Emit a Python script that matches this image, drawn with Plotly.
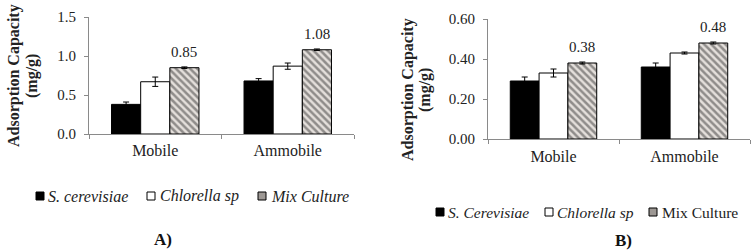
import plotly.graph_objects as go

categories = ["Mobile", "Ammobile"]

# Panel A
a_names = ["S. cerevisiae", "Chlorella sp", "Mix Culture"]
a_scer = [0.38, 0.68]
a_scer_err = [0.03, 0.03]
a_chl = [0.67, 0.87]
a_chl_err = [0.06, 0.04]
a_mix = [0.85, 1.08]
a_mix_err = [0.01, 0.01]
a_mix_labels = ["0.85", "1.08"]

# Panel B
b_names = ["S. Cerevisiae", "Chlorella sp", "Mix Culture"]
b_scer = [0.29, 0.36]
b_scer_err = [0.02, 0.02]
b_chl = [0.33, 0.43]
b_chl_err = [0.02, 0.005]
b_mix = [0.38, 0.48]
b_mix_err = [0.005, 0.005]
b_mix_labels = ["0.38", "0.48"]

FONT = "Liberation Serif, Times New Roman, Times, serif"
TXT = "#222"
BARGAP = 0.34
err_style = dict(type="data", color="black", thickness=1, width=3)
MIX_BG = "#e4dfdb"
hatch = dict(shape="\\", fgcolor="#3a3a3a", bgcolor=MIX_BG, size=5, solidity=0.5)
fills = ["black", "white", "#9d9894"]

fig = go.Figure()

def add_panel(xa, ya, names, s, se, c, ce, m, me, lab):
    fig.add_trace(go.Bar(x=categories, y=s, name=names[0], xaxis=xa, yaxis=ya,
                         marker=dict(color="black", line=dict(color="black", width=1)),
                         error_y=dict(array=se, **err_style)))
    fig.add_trace(go.Bar(x=categories, y=c, name=names[1], xaxis=xa, yaxis=ya,
                         marker=dict(color="white", line=dict(color="black", width=1)),
                         error_y=dict(array=ce, **err_style)))
    fig.add_trace(go.Bar(x=categories, y=m, name=names[2], xaxis=xa, yaxis=ya,
                         marker=dict(color=MIX_BG, pattern=hatch, line=dict(color="black", width=1)),
                         error_y=dict(array=me, **err_style)))
    # value labels above the Mix Culture bars (third bar of each group)
    off = (1 - BARGAP) / 3
    for i, (v, t) in enumerate(zip(m, lab)):
        fig.add_annotation(x=i + off, y=v, xref=xa, yref=ya, text=t, showarrow=False,
                           xanchor="center", yanchor="bottom", yshift=6,
                           font=dict(family=FONT, size=15, color=TXT))

add_panel("x", "y", a_names, a_scer, a_scer_err, a_chl, a_chl_err, a_mix, a_mix_err, a_mix_labels)
add_panel("x2", "y2", b_names, b_scer, b_scer_err, b_chl, b_chl_err, b_mix, b_mix_err, b_mix_labels)

W, H = 751, 252
def px(x): return x / W
def py(y): return (H - y) / H

axis_common = dict(showline=True, linecolor="#8a8a8a", linewidth=1, showgrid=False, zeroline=False,
                   ticks="outside", tickcolor="#8a8a8a", ticklen=4, automargin=False)

fig.update_layout(
    width=W, height=H, margin=dict(l=0, r=0, t=0, b=0),
    paper_bgcolor="white", plot_bgcolor="white",
    barmode="group", bargap=BARGAP, bargroupgap=0,
    font=dict(family=FONT, color=TXT),
    showlegend=False,
    xaxis=dict(domain=[px(89), px(354)], anchor="y", tickson="boundaries", ticklabelstandoff=2,
               tickfont=dict(family=FONT, size=16, color=TXT), **axis_common),
    yaxis=dict(domain=[py(134), py(17)], anchor="x", range=[0, 1.5], dtick=0.5, tickformat=".1f",
               tickfont=dict(family=FONT, size=15, color=TXT), ticklabelstandoff=5, **axis_common),
    xaxis2=dict(domain=[px(488), px(750)], anchor="y2", tickson="boundaries", ticklabelstandoff=3,
                tickfont=dict(family=FONT, size=16, color=TXT), **axis_common),
    yaxis2=dict(domain=[py(139), py(19)], anchor="x2", range=[0, 0.6], dtick=0.2, tickformat=".2f",
                tickfont=dict(family=FONT, size=15, color=TXT), ticklabelstandoff=5, **axis_common),
)

# Legend rows (icon squares + labels)
def legend_row(names, italics, icon_x, text_x, yc, size):
    for i, name in enumerate(names):
        fig.add_shape(type="rect", xref="paper", yref="paper",
                      x0=px(icon_x[i]), x1=px(icon_x[i] + 8), y0=py(yc + 4), y1=py(yc - 4),
                      fillcolor=fills[i], line=dict(color="black", width=1))
        label = f"<i>{name}</i>" if italics[i] else name
        fig.add_annotation(text=label, xref="paper", yref="paper", x=px(text_x[i]), y=py(yc),
                           xanchor="left", yanchor="middle", showarrow=False,
                           font=dict(family=FONT, size=size, color=TXT))

legend_row(a_names, [True, True, True], [36, 147, 258], [46, 158, 269], 196, 16)
legend_row(b_names, [True, True, False], [436, 545, 649], [446, 555, 660], 212, 15.5)

ann_font = dict(family=FONT, size=16, color=TXT)
annotations = [
    dict(text="<b>Adsorption Capacity</b>", x=px(14), y=py(76), textangle=-90),
    dict(text="<b>(mg/g)</b>", x=px(32), y=py(76), textangle=-90),
    dict(text="<b>Adsorption Capacity</b>", x=px(408), y=py(90), textangle=-90),
    dict(text="<b>(mg/g)</b>", x=px(425), y=py(90), textangle=-90),
    dict(text="<b>A)</b>", x=px(163), y=py(239), font=dict(family=FONT, size=17, color="#111")),
    dict(text="<b>B)</b>", x=px(623), y=py(240), font=dict(family=FONT, size=17, color="#111")),
]
for a in annotations:
    a.setdefault("font", ann_font)
    fig.add_annotation(xref="paper", yref="paper", showarrow=False, xanchor="center", yanchor="middle", **a)

fig.write_html("out.html", config={"displayModeBar": False},
               post_script="document.body.style.margin='0';")
